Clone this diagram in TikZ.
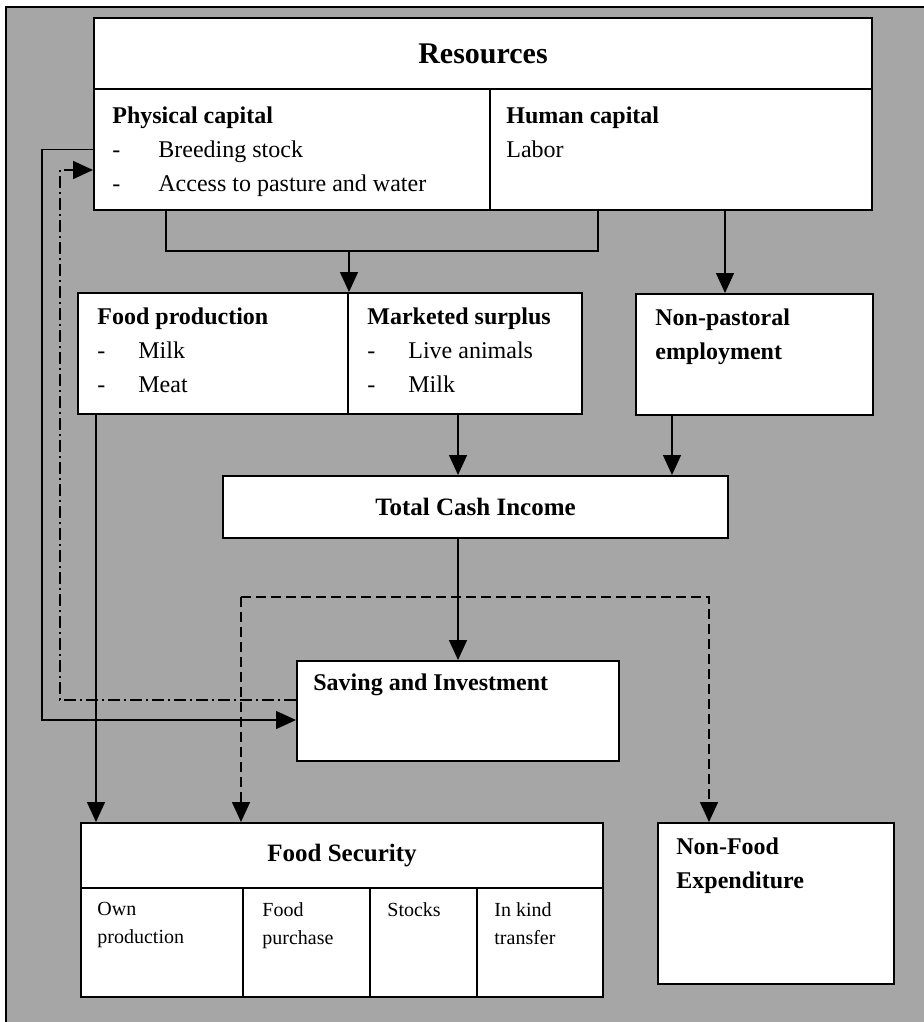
\documentclass[tikz,border=0pt]{standalone}
\usepackage{fontspec}
\setmainfont{Liberation Serif}
\usetikzlibrary{positioning,arrows.meta}
\newcommand\idash[1][23pt]{\makebox[#1][l]{-}}

\begin{document}
\begin{tikzpicture}[x=0.5pt,y=-0.5pt,
  box/.style={draw,line width=1pt,fill=white,inner sep=0pt,anchor=north west},
  txt/.style={inner sep=0pt,align=left,font=\fontsize{12}{17}\selectfont},
  hd/.style={inner sep=0pt,align=left,font=\fontsize{12}{17}\selectfont\bfseries},
  small/.style={inner sep=0pt,align=left,font=\fontsize{10}{14}\selectfont},
  ln/.style={line width=0.75pt},
  arr/.style={line width=0.75pt,-{Triangle[length=10pt,width=9pt]}},
  dsh/.style={dash pattern=on 5pt off 2.5pt},
  dshdot/.style={dash pattern=on 6pt off 2pt on 1pt off 2pt}]
\useasboundingbox (0,0) rectangle (924,1022);
% shaded frame
\fill[black!35] (6,7) rectangle (924,1022);
\draw[line width=1.2pt] (6,1022) -- (6,7) -- (924,7);

% connectors
\coordinate (bl) at (166,251);
\coordinate (br) at (598,251);
\coordinate (hx) at (725,0);
\coordinate (nx) at (672,0);
\coordinate (fx) at (96,0);
\coordinate (dl) at (241,597);
\coordinate (dr) at (709,597);
\coordinate (lo) at (42,720);
\coordinate (li) at (60,700);
\coordinate (pi) at (60,170);

% boxes
\node[box,minimum width=389pt,minimum height=35.5pt] (res) at (93,17) {};
\node[box,minimum width=198pt,minimum height=60.5pt] (phys) at (93,88) {};
\node[box,minimum width=191pt,minimum height=60.5pt] (hum) at (489,88) {};
\node[box,minimum width=135pt,minimum height=60.5pt] (food) at (77,292) {};
\node[box,minimum width=117pt,minimum height=60.5pt] (mkt) at (347,292) {};
\node[box,minimum width=118.5pt,minimum height=60.5pt] (nonpast) at (635,293) {};
\node[box,minimum width=252.5pt,minimum height=31pt] (tci) at (222,475) {};
\node[box,minimum width=161pt,minimum height=50pt] (save) at (296,660) {};
\node[box,minimum width=261pt,minimum height=32.5pt] (fsec) at (80,822) {};
\node[box,minimum width=81pt,minimum height=54.5pt] (own) at (80,887) {};
\node[box,minimum width=63.5pt,minimum height=54.5pt] (buy) at (242,887) {};
\node[box,minimum width=53.5pt,minimum height=54.5pt] (stk) at (369,887) {};
\node[box,minimum width=63pt,minimum height=54.5pt] (kind) at (476,887) {};
\node[box,minimum width=118pt,minimum height=80.5pt] (nonfood) at (657,822) {};

% texts
\node[hd,font=\fontsize{15}{17}\selectfont\bfseries] (resT) at (res.center) {Resources};
\node[txt,below right=9pt and 9.5pt of phys.north west] (physT) {\textbf{Physical capital}\\\idash Breeding stock\\\idash Access to pasture and water};
\node[txt,below right=9pt and 8.5pt of hum.north west] (humT) {\textbf{Human capital}\\Labor};
\node[txt,below right=7.5pt and 10pt of food.north west] (foodT) {\textbf{Food production}\\\idash[20.5pt]Milk\\\idash[20.5pt]Meat};
\node[txt,below right=7.5pt and 10pt of mkt.north west] (mktT) {\textbf{Marketed surplus}\\\idash[20.5pt]Live animals\\\idash[20.5pt]Milk};
\node[hd,below right=7.5pt and 10pt of nonpast.north west] (nonpastT) {Non-pastoral\\employment};
\node[hd,font=\fontsize{12.5}{17}\selectfont\bfseries] (tciT) at (tci.center) {Total Cash Income};
\node[hd,below right=6.5pt and 8.5pt of save.north west] (saveT) {Saving and Investment};
\node[hd,font=\fontsize{12.5}{17}\selectfont\bfseries] (fsecT) at (fsec.center) {Food Security};
\node[small,below right=7.5pt and 8.5pt of own.north west] (ownT) {Own\\production};
\node[small,below right=7.5pt and 10pt of buy.north west] (buyT) {Food\\purchase};
\node[small,below right=7.5pt and 9pt of stk.north west] (stkT) {Stocks};
\node[small,below right=7.5pt and 9pt of kind.north west] (kindT) {In kind\\transfer};
\node[hd,below right=7.5pt and 9.5pt of nonfood.north west] (nonfoodT) {Non-Food\\Expenditure};

% arrows
\draw[ln] (phys.south -| bl) -- (bl) -- (br) -- (hum.south -| br);
\draw[arr] (bl -| food.north east) -- (food.north east);
\draw[arr] (hum.south -| hx) -- (nonpast.north -| hx);
\draw[arr] (mkt.south -| save.north) -- (tci.north -| save.north);
\draw[arr] (nonpast.south -| nx) -- (tci.north -| nx);
\draw[arr] (tci.south -| save.north) -- (save.north);
\draw[arr,dsh] (dl) -- (fsec.north -| dl);
\draw[arr,dsh] (dl) -- (dr) -- (nonfood.north -| dr);
\draw[arr] (food.south -| fx) -- (fsec.north -| fx);
\draw[arr] (phys.west) -| (lo) -- (save.west |- lo);
\draw[arr,dshdot] (save.west |- li) -- (li) -- (pi) -- (phys.west |- pi);
\end{tikzpicture}
\end{document}
